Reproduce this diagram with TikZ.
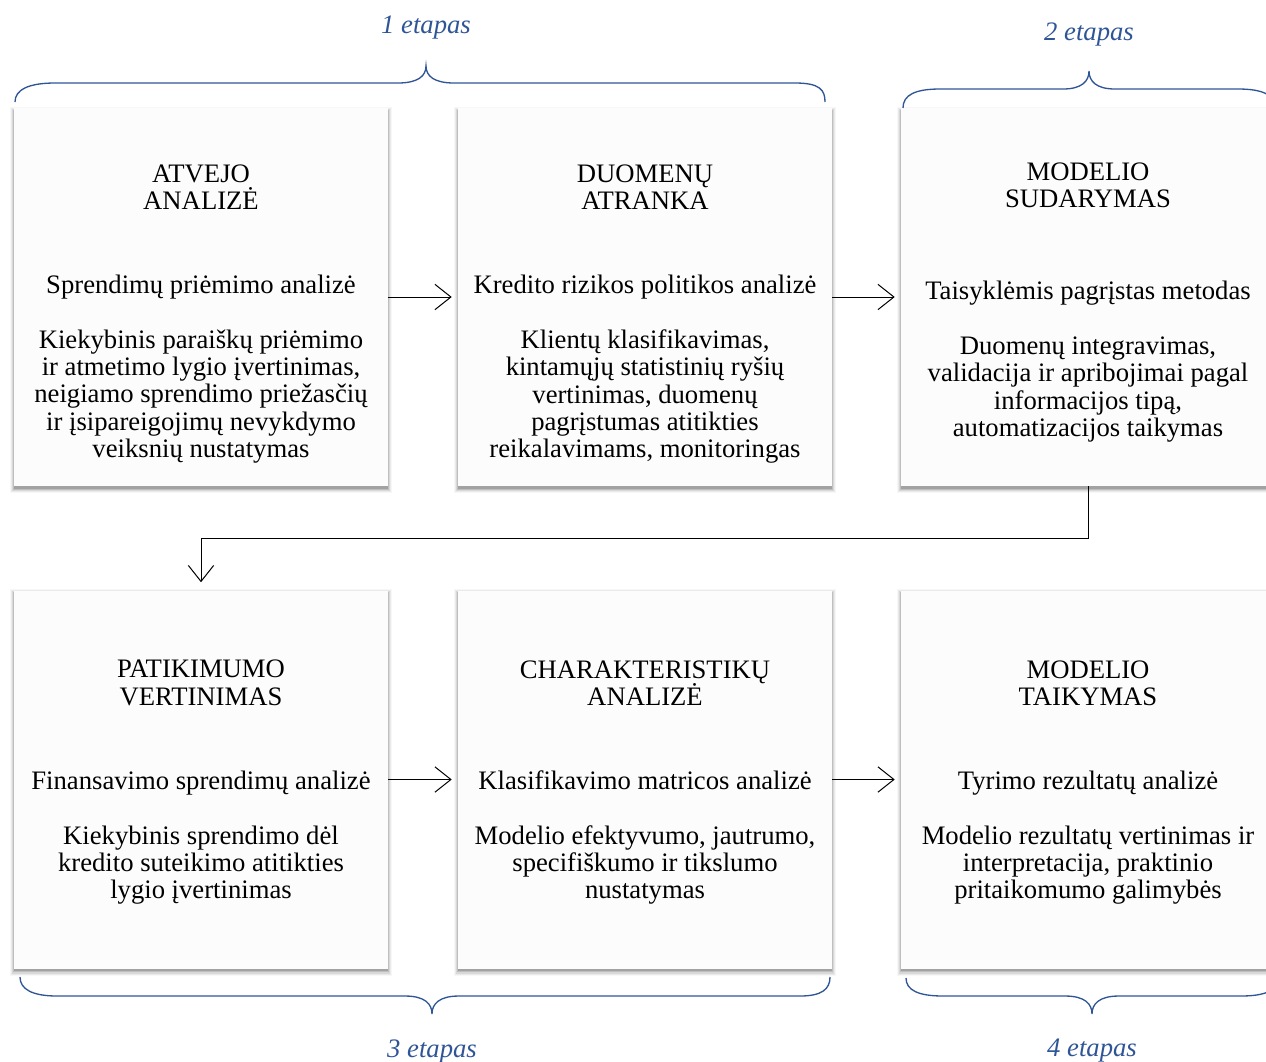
\documentclass[tikz,border=0pt]{standalone}
\usepackage{fontspec}
\setmainfont{Liberation Serif}
\usetikzlibrary{arrows.meta,shadows}
\definecolor{bluebrace}{RGB}{47,85,151}
\definecolor{boxfill}{RGB}{252,252,252}
\begin{document}
\begin{tikzpicture}[x=0.75pt,y=-0.75pt,
  box/.style={draw=none, fill=boxfill, minimum width=280.5pt, minimum height=283.5pt, inner sep=0pt,
    general shadow={fill=black, opacity=0.03, shadow xshift=0pt, shadow yshift=-2.2pt, shadow scale=1.0214},
    general shadow={fill=black, opacity=0.05, shadow xshift=0pt, shadow yshift=-2.2pt, shadow scale=1.016},
    general shadow={fill=black, opacity=0.08, shadow xshift=0pt, shadow yshift=-2.2pt, shadow scale=1.0107},
    general shadow={fill=black, opacity=0.12, shadow xshift=0pt, shadow yshift=-2.2pt, shadow scale=1.0053},
    general shadow={fill=black, opacity=0.15, shadow xshift=0pt, shadow yshift=-2.2pt}},
  txt/.style={font=\fontsize{20}{20.5}\selectfont, align=center, inner sep=0pt},
  sub/.style={font=\fontsize{20}{20.5}\selectfont, inner sep=0pt, anchor=base},
  link/.style={line width=0.75pt, -{Straight Barb[length=12pt,width=19pt,line width=0.75pt]}},
  brace/.style={draw=bluebrace, line width=1pt},
  stage/.style={font=\fontsize{20}{20}\selectfont\itshape, text=bluebrace, inner sep=0pt}]
\useasboundingbox (0,0) rectangle (1266,1061);
\clip (0,0) rectangle (1266,1061);
% boxes
\node[box] (b1) at (201,297) {};
\node[box] (b2) at (645,297) {};
\node[box] (b3) at (1088,297) {};
\node[box] (b4) at (201,779.5) {};
\node[box] (b5) at (645,779.5) {};
\node[box] (b6) at (1088,779.5) {};
% box 1
\node[txt] (t1) at (201,187) {ATVEJO\\ANALIZĖ};
\node[sub] (s1) at (201,293) {Sprendimų priėmimo analizė};
\node[txt] (d1) at (201,396.5) {Kiekybinis paraiškų priėmimo\\ir atmetimo lygio įvertinimas,\\neigiamo sprendimo priežasčių\\ir įsipareigojimų nevykdymo\\veiksnių nustatymas};
% box 2
\node[txt] (t2) at (645,187) {DUOMENŲ\\ATRANKA};
\node[sub] (s2) at (645,293) {Kredito rizikos politikos analizė};
\node[txt] (d2) at (645,396.5) {Klientų klasifikavimas,\\kintamųjų statistinių ryšių\\vertinimas, duomenų\\pagrįstumas atitikties\\reikalavimams, monitoringas};
% box 3
\node[txt] (t3) at (1088,185) {MODELIO\\SUDARYMAS};
\node[sub] (s3) at (1088,299) {Taisyklėmis pagrįstas metodas};
\node[txt] (d3) at (1088,389.5) {Duomenų integravimas,\\validacija ir apribojimai pagal\\informacijos tipą,\\automatizacijos taikymas};
% box 4
\node[txt] (t4) at (201,683) {PATIKIMUMO\\VERTINIMAS};
\node[sub] (s4) at (201,789) {Finansavimo sprendimų analizė};
\node[txt] (d4) at (201,865) {Kiekybinis sprendimo dėl\\kredito suteikimo atitikties\\lygio įvertinimas};
% box 5
\node[txt] (t5) at (645,683) {CHARAKTERISTIKŲ\\ANALIZĖ};
\node[sub] (s5) at (645,789) {Klasifikavimo matricos analizė};
\node[txt] (d5) at (645,865) {Modelio efektyvumo, jautrumo,\\specifiškumo ir tikslumo\\nustatymas};
% box 6
\node[txt] (t6) at (1088,683) {MODELIO\\TAIKYMAS};
\node[sub] (s6) at (1088,789) {Tyrimo rezultatų analizė};
\node[txt] (d6) at (1088,865) {Modelio rezultatų vertinimas ir\\interpretacija, praktinio\\pritaikomumo galimybės};
% connectors
\draw[link, shorten >=4.5pt] (b1.east) -- (b2.west);
\draw[link, shorten >=4.5pt] (b2.east) -- (b3.west);
\draw[link, shorten >=4.5pt] (b4.east) -- (b5.west);
\draw[link, shorten >=4.5pt] (b5.east) -- (b6.west);
\coordinate (bend) at (201,538);
\draw[link, shorten >=6pt] (b3.south) |- (bend) -- (b4.north);
% braces
\draw[brace] (15,102) .. controls (15,90) and (28,83) .. (55,83) -- (398,83) .. controls (418,83) and (426,76) .. (426,66) .. controls (426,76) and (434,83) .. (454,83) -- (795,83) .. controls (820,83) and (825,90) .. (825,102);
\draw[brace] (903,108) .. controls (903,95) and (915,89) .. (940,89) -- (1063,89) .. controls (1082,89) and (1089,81) .. (1089,71) .. controls (1089,81) and (1096,89) .. (1115,89) -- (1238,89) .. controls (1263,89) and (1275,95) .. (1275,108);
\draw[brace] (20,977) .. controls (20,989) and (32,996) .. (57,996) -- (405,996) .. controls (425,996) and (432,1004) .. (432,1014) .. controls (432,1004) and (439,996) .. (459,996) -- (800,996) .. controls (822,996) and (830,989) .. (830,977);
\draw[brace] (906,978) .. controls (906,990) and (918,996) .. (943,996) -- (1065,996) .. controls (1085,996) and (1092,1004) .. (1092,1014) .. controls (1092,1004) and (1099,996) .. (1119,996) -- (1241,996) .. controls (1266,996) and (1278,990) .. (1278,978);
% stage labels
\node[stage] (e1) at (426,28) {1 etapas};
\node[stage] (e2) at (1089,35) {2 etapas};
\node[stage] (e3) at (432,1051) {3 etapas};
\node[stage] (e4) at (1092,1051) {4 etapas};
\end{tikzpicture}
\end{document}
